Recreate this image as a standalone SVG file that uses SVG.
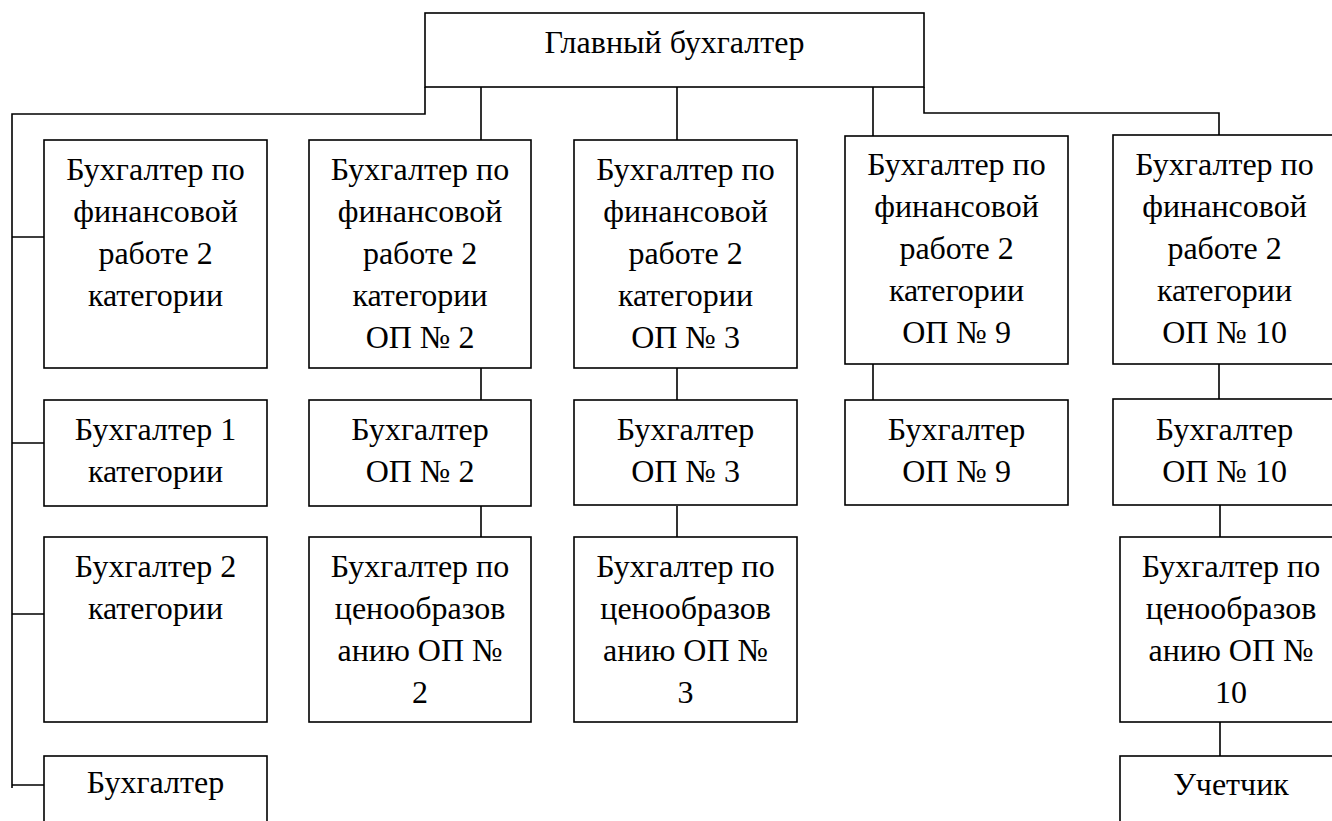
<svg xmlns="http://www.w3.org/2000/svg" width="1332" height="821" viewBox="0 0 1332 821">
<style>
.box{fill:#fff;stroke:#000;stroke-width:1.6}
.c{fill:none;stroke:#000;stroke-width:1.6}
.t text{font-size:32px;fill:#000;text-anchor:middle}
</style>
<rect width="1332" height="821" fill="#fff"/>
<g id="connectors">
<path class="c" d="M425,87 V114 H12 V788"/>
<path class="c" d="M12,237 H44 M12,443 H44 M12,614 H44 M12,785 H44"/>
<path class="c" d="M481,87 V140 M481,368 V400 M481,506 V537"/>
<path class="c" d="M677,87 V140 M677,368 V400 M677,506 V537"/>
<path class="c" d="M873,87 V136 M873,364 V400"/>
<path class="c" d="M924,87 V113 H1219 V135 M1219,364 V399 M1220,505 V537 M1220,722 V756"/>
</g>
<g class="t" font-family="'Liberation Serif', 'Times New Roman', Tinos, 'DejaVu Serif', serif">
<g id="chief"><rect class="box" x="425" y="13" width="499" height="74"/><text x="674.5" y="53">Главный бухгалтер</text></g>
<g id="fin1"><rect class="box" x="44" y="140" width="223" height="228"/><text x="155.5" y="180">Бухгалтер по</text><text x="155.5" y="222">финансовой</text><text x="155.5" y="264">работе 2</text><text x="155.5" y="306">категории</text></g>
<g id="b1"><rect class="box" x="44" y="400" width="223" height="106"/><text x="155.5" y="440">Бухгалтер 1</text><text x="155.5" y="482">категории</text></g>
<g id="b2"><rect class="box" x="44" y="537" width="223" height="185"/><text x="155.5" y="577">Бухгалтер 2</text><text x="155.5" y="619">категории</text></g>
<g id="b3"><rect class="box" x="44" y="756" width="223" height="80"/><text x="155.5" y="793">Бухгалтер</text></g>
<g id="fin2"><rect class="box" x="309" y="140" width="222" height="228"/><text x="420" y="180">Бухгалтер по</text><text x="420" y="222">финансовой</text><text x="420" y="264">работе 2</text><text x="420" y="306">категории</text><text x="420" y="348">ОП № 2</text></g>
<g id="acc2"><rect class="box" x="309" y="400" width="222" height="106"/><text x="420" y="440">Бухгалтер</text><text x="420" y="482">ОП № 2</text></g>
<g id="price2"><rect class="box" x="309" y="537" width="222" height="185"/><text x="420" y="577">Бухгалтер по</text><text x="420" y="619">ценообразов</text><text x="420" y="661">анию ОП №</text><text x="420" y="703">2</text></g>
<g id="fin3"><rect class="box" x="574" y="140" width="223" height="228"/><text x="685.5" y="180">Бухгалтер по</text><text x="685.5" y="222">финансовой</text><text x="685.5" y="264">работе 2</text><text x="685.5" y="306">категории</text><text x="685.5" y="348">ОП № 3</text></g>
<g id="acc3"><rect class="box" x="574" y="400" width="223" height="105"/><text x="685.5" y="440">Бухгалтер</text><text x="685.5" y="482">ОП № 3</text></g>
<g id="price3"><rect class="box" x="574" y="537" width="223" height="185"/><text x="685.5" y="577">Бухгалтер по</text><text x="685.5" y="619">ценообразов</text><text x="685.5" y="661">анию ОП №</text><text x="685.5" y="703">3</text></g>
<g id="fin9"><rect class="box" x="845" y="136" width="223" height="228"/><text x="956.5" y="175">Бухгалтер по</text><text x="956.5" y="217">финансовой</text><text x="956.5" y="259">работе 2</text><text x="956.5" y="301">категории</text><text x="956.5" y="343">ОП № 9</text></g>
<g id="acc9"><rect class="box" x="845" y="400" width="223" height="105"/><text x="956.5" y="440">Бухгалтер</text><text x="956.5" y="482">ОП № 9</text></g>
<g id="fin10"><rect class="box" x="1113" y="135" width="223" height="229"/><text x="1224.5" y="175">Бухгалтер по</text><text x="1224.5" y="217">финансовой</text><text x="1224.5" y="259">работе 2</text><text x="1224.5" y="301">категории</text><text x="1224.5" y="343">ОП № 10</text></g>
<g id="acc10"><rect class="box" x="1113" y="399" width="223" height="106"/><text x="1224.5" y="440">Бухгалтер</text><text x="1224.5" y="482">ОП № 10</text></g>
<g id="price10"><rect class="box" x="1120" y="537" width="223" height="185"/><text x="1231" y="577">Бухгалтер по</text><text x="1231" y="619">ценообразов</text><text x="1231" y="661">анию ОП №</text><text x="1231" y="703">10</text></g>
<g id="clerk"><rect class="box" x="1120" y="756" width="223" height="80"/><text x="1231" y="795">Учетчик</text></g>
</g>
</svg>
